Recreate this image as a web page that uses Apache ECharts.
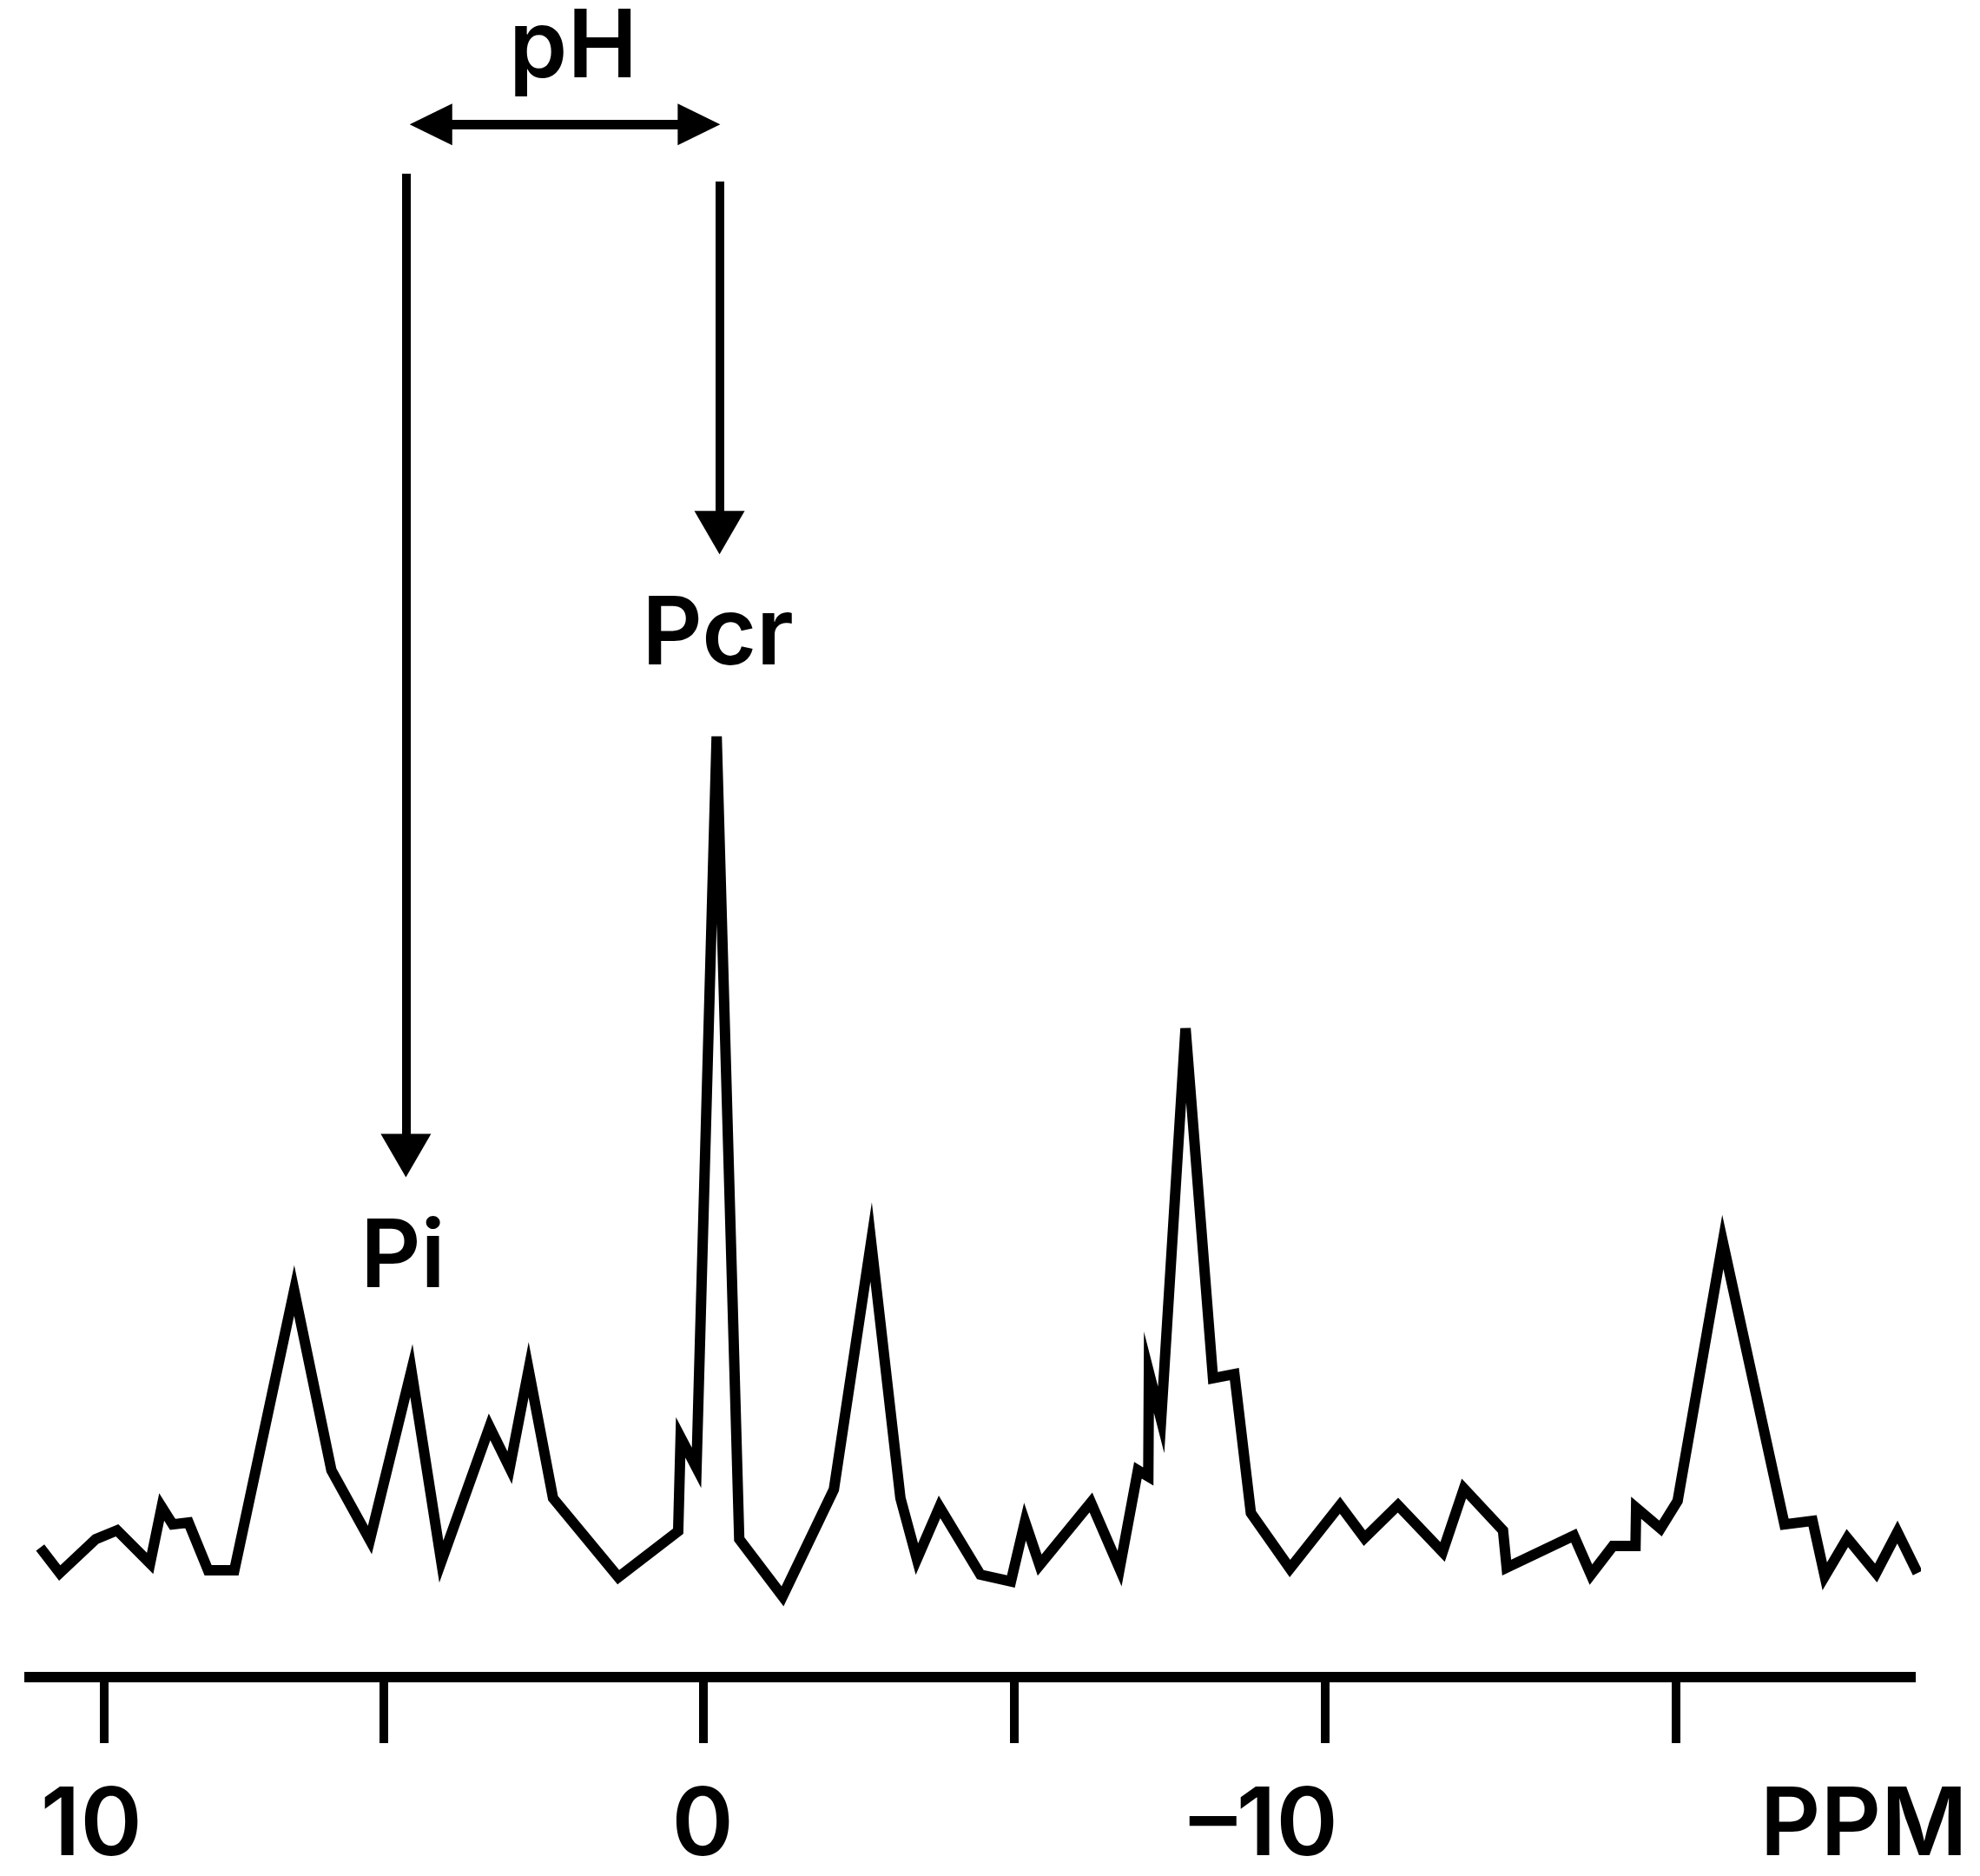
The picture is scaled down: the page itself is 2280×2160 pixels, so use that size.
<!DOCTYPE html>
<html>
<head>
<meta charset="utf-8">
<script src="https://cdn.jsdelivr.net/npm/echarts@6/dist/echarts.min.js"></script>
<style>
  html, body { margin: 0; padding: 0; background: #fff; }
  #chart { width: 2280px; height: 2160px; }
</style>
</head>
<body>
<div id="chart"></div>
<script>
// Chemical shift (ppm) of each vertex of the drawn spectrum
const ppm = [10.98, 10.66, 10.07, 9.72, 9.18, 8.99, 8.81, 8.55, 8.23, 7.80,
  6.82, 6.21, 5.58, 4.90, 4.41, 3.62, 3.29, 2.98, 2.58, 1.51,
  0.53, 0.49, 0.23, -0.10, -0.47, -1.18, -2.02, -2.63, -3.11, -3.38,
  -3.75, -4.42, -4.92, -5.15, -5.39, -6.23, -6.70, -7.00, -7.17, -7.18,
  -7.38, -7.78, -8.23, -8.58, -8.85, -9.49, -10.31, -10.71, -11.26, -11.99,
  -12.34, -12.98, -13.04, -14.14, -14.42, -14.78, -15.15, -15.16, -15.56, -15.84,
  -16.58, -17.59, -18.05, -18.25, -18.62, -19.09, -19.44, -19.77];
// Signal intensity (arbitrary units) at each vertex
const intensity = [7.72, 6.21, 8.23, 8.75, 6.78, 10.15, 9.11, 9.22, 6.37, 6.37,
  23.05, 12.33, 8.18, 18.28, 6.89, 14.92, 12.48, 18.33, 10.67, 5.96,
  8.70, 14.29, 12.48, 56.09, 8.23, 4.82, 11.19, 25.95, 10.67, 7.04,
  10.15, 6.11, 5.70, 9.27, 6.68, 10.41, 6.47, 12.33, 11.96, 18.18,
  15.33, 38.68, 17.82, 18.07, 9.79, 6.47, 10.25, 8.29, 10.25, 7.46,
  11.24, 8.75, 6.53, 8.44, 6.11, 7.82, 7.82, 10.10, 8.86, 10.51,
  25.95, 9.11, 9.32, 6.01, 8.29, 6.21, 8.65, 6.21];

// Axis ticks and labels
const xTickValues = [9.94, 5.35, 0.12, -4.97, -10.06, -15.81];
const xLabelValues = [10, 0, -10, -18.89];
const xLabelTexts = ['10', '0', '\u201310', 'PPM'];
const xLabelShift = [20, 18, 132, 0];

// Peak annotations
const peakNames = ['Pi', 'Pcr', 'pH'];
const peakNameX = [5.04, -0.12, 2.25];
const peakNameY = [24.92, 62.05, 97.05];

// Vertical arrows: [x, yStart, yEnd]
const vArrowX = [4.99, -0.147];
const vArrowY0 = [89.64, 89.18];
const vArrowY1 = [31.10, 68.24];
// Horizontal pH arrow
const hArrowX = [4.58, 0.19];
const hArrowY = 92.58;

const FONT = 'Inter';
const WEIGHT = 600;
const chart = echarts.init(document.getElementById('chart'), null, { renderer: 'canvas' });

const rich = {};
xLabelTexts.forEach((t, i) => {
  rich['l' + i] = {
    fontFamily: FONT, fontSize: 108, fontWeight: WEIGHT, color: '#000',
    padding: [0, xLabelShift[i], 0, 0]
  };
});

const option = {
  animation: false,
  backgroundColor: '#fff',
  grid: { left: 28, right: 74, top: 0, bottom: 229, containLabel: false },
  xAxis: {
    type: 'value',
    inverse: true,
    min: -19.74,
    max: 11.24,
    axisLine: { show: true, onZero: false, lineStyle: { color: '#000', width: 12, cap: 'butt' } },
    axisTick: {
      show: true, inside: false, length: 76,
      customValues: xTickValues,
      lineStyle: { color: '#000', width: 10 }
    },
    axisLabel: {
      show: true,
      customValues: xLabelValues,
      margin: 119,
      fontFamily: FONT, fontSize: 108, fontWeight: WEIGHT, color: '#000',
      formatter: function (v) {
        let best = 0;
        xLabelValues.forEach((lv, i) => {
          if (Math.abs(lv - v) < Math.abs(xLabelValues[best] - v)) best = i;
        });
        return '{l' + best + '|' + xLabelTexts[best] + '}';
      },
      rich: rich
    },
    splitLine: { show: false }
  },
  yAxis: {
    type: 'value', min: 0, max: 100, show: false,
    splitLine: { show: false }
  },
  series: [
    {
      name: 'spectrum',
      type: 'line',
      data: ppm.map((x, i) => [x, intensity[i]]),
      symbol: 'none',
      clip: false,
      silent: true,
      lineStyle: { color: '#000', width: 12, join: 'miter', miterLimit: 10, cap: 'butt' }
    },
    {
      name: 'vArrows',
      type: 'line',
      data: [],
      markLine: {
        silent: true,
        animation: false,
        symbol: ['none', 'triangle'],
        symbolSize: [58, 50],
        label: { show: false },
        emphasis: { disabled: true },
        lineStyle: { color: '#000', width: 10, type: 'solid' },
        itemStyle: { color: '#000' },
        data: vArrowX.map((x, i) => [
          { coord: [x, vArrowY0[i]] },
          { coord: [x, vArrowY1[i]] }
        ])
      }
    },
    {
      name: 'hArrow',
      type: 'line',
      data: [],
      markLine: {
        silent: true,
        animation: false,
        symbol: ['triangle', 'triangle'],
        symbolSize: [48, 49],
        label: { show: false },
        emphasis: { disabled: true },
        lineStyle: { color: '#000', width: 11, type: 'solid' },
        itemStyle: { color: '#000' },
        data: [[{ coord: [hArrowX[0], hArrowY] }, { coord: [hArrowX[1], hArrowY] }]]
      }
    },
    {
      name: 'labels',
      type: 'scatter',
      silent: true,
      symbolSize: 0,
      itemStyle: { color: '#000' },
      data: peakNames.map((n, i) => ({ name: n, value: [peakNameX[i], peakNameY[i]] })),
      label: {
        show: true, position: 'inside',
        formatter: p => p.name,
        fontFamily: FONT, fontSize: 108, fontWeight: WEIGHT, color: '#000',
        textBorderWidth: 0, textBorderColor: 'transparent', opacity: 1
      }
    }
  ]
};
chart.setOption(option);
</script>
</body>
</html>
